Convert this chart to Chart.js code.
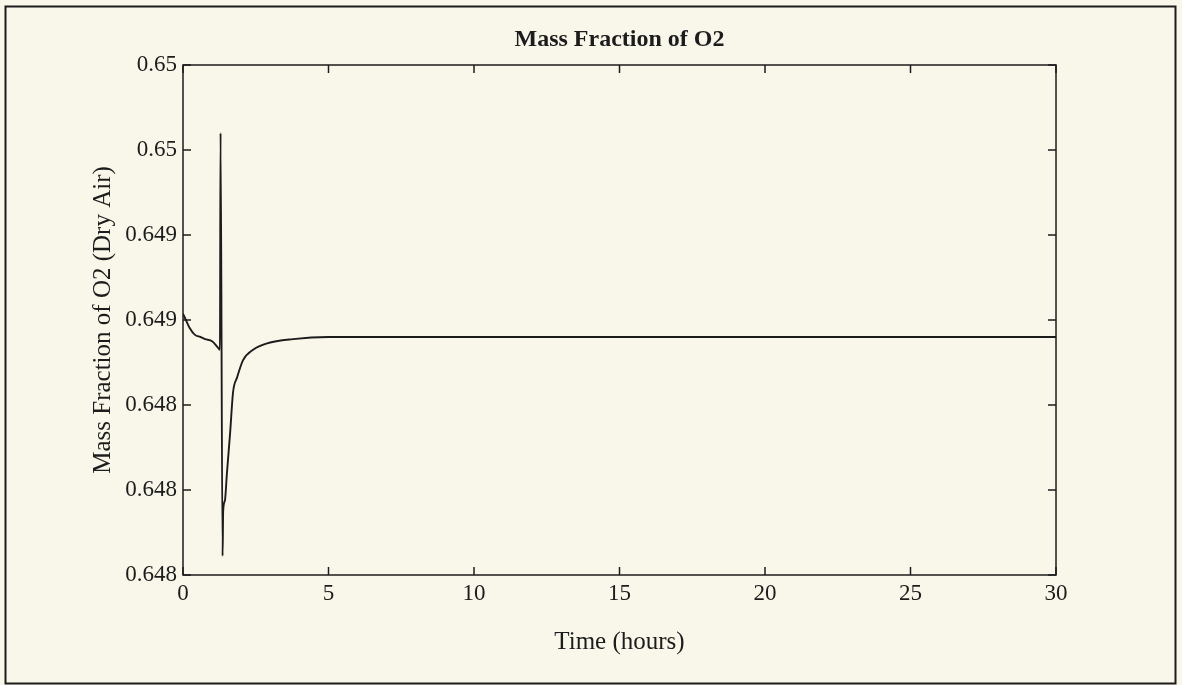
<!DOCTYPE html>
<html>
<head>
<meta charset="utf-8">
<script src="https://cdn.jsdelivr.net/npm/chart.js@4/dist/chart.umd.min.js"></script>
<style>
  html, body { margin: 0; padding: 0; background: #f7f6ea; }
  #wrap { width: 1182px; height: 685px; position: relative; }
</style>
</head>
<body>
<div id="wrap"><canvas id="o2Chart" width="1182" height="685"></canvas></div>
<script>
// Time axis (hours) and O2 mass fraction readings
var timeHours = [0, 0.1, 0.24, 0.41, 0.6, 0.76, 1.0, 1.2, 1.27, 1.29, 1.36, 1.38, 1.44, 1.51, 1.62, 1.72, 1.86, 2.06, 2.41, 2.89, 3.78, 5, 6.77, 10, 15, 20, 25, 30];
var massFractionO2 = [0.64883, 0.64880, 0.64876, 0.64873, 0.64872, 0.64871, 0.64870, 0.64867, 0.64866, 0.64968, 0.64769, 0.64790, 0.64795, 0.64808, 0.64827, 0.64846, 0.64853, 0.64861, 0.64866, 0.64869, 0.64871, 0.64872, 0.64872, 0.64872, 0.64872, 0.64872, 0.64872, 0.64872];

// Axis limits / tick spacing
var xLimits = [0, 30];
var xStep = 5;
var yLimits = [0.6476, 0.65];
var yStep = 0.0004;

var ink = '#1c1c1c';
var serif = "'Liberation Serif', 'DejaVu Serif', serif";

var points = timeHours.map(function (t, i) {
  return { x: t, y: massFractionO2[i] };
});

// Paper background, outer frame, box around the axes and inward ticks on all four sides
var paperPlugin = {
  id: 'paper',
  beforeDraw: function (chart) {
    var ctx = chart.ctx;
    ctx.save();
    ctx.fillStyle = '#f8f7ea';
    ctx.fillRect(0, 0, chart.width, chart.height);
    ctx.restore();
  },
  afterDraw: function (chart) {
    var ctx = chart.ctx;
    var a = chart.chartArea;
    var xs = chart.scales.x;
    var ys = chart.scales.y;
    var len = 8;
    ctx.save();
    ctx.strokeStyle = ink;
    ctx.lineWidth = 2;
    ctx.strokeRect(5.5, 6.5, 1170, 677);
    ctx.lineWidth = 1.5;
    ctx.strokeRect(a.left, a.top, a.right - a.left, a.bottom - a.top);
    ctx.beginPath();
    xs.ticks.forEach(function (t, i) {
      var px = xs.getPixelForTick(i);
      ctx.moveTo(px, a.bottom); ctx.lineTo(px, a.bottom - len);
      ctx.moveTo(px, a.top); ctx.lineTo(px, a.top + len);
    });
    ys.ticks.forEach(function (t, i) {
      var py = ys.getPixelForTick(i);
      ctx.moveTo(a.left, py); ctx.lineTo(a.left + len, py);
      ctx.moveTo(a.right, py); ctx.lineTo(a.right - len, py);
    });
    ctx.stroke();
    ctx.restore();
  }
};

var ctx = document.getElementById('o2Chart').getContext('2d');
var o2Chart = new Chart(ctx, {
  type: 'line',
  data: {
    datasets: [{
      data: points,
      borderColor: ink,
      borderWidth: 1.9,
      pointRadius: 0,
      fill: false,
      cubicInterpolationMode: 'monotone'
    }]
  },
  plugins: [paperPlugin],
  options: {
    responsive: false,
    animation: false,
    layout: { padding: { left: 0, right: 126, top: 0, bottom: 0 } },
    plugins: {
      legend: { display: false },
      tooltip: { enabled: false },
      title: {
        display: true,
        fullSize: false, // centre over the plot box only
        text: 'Mass Fraction of O2',
        color: ink,
        font: { family: serif, size: 24, weight: 'bold' },
        padding: { top: 25.6, bottom: 10.6 }
      }
    },
    scales: {
      x: {
        type: 'linear',
        min: xLimits[0],
        max: xLimits[1],
        afterFit: function (scale) { scale.height = 110; },
        ticks: {
          stepSize: xStep,
          color: ink,
          padding: 5,
          maxRotation: 0,
          font: { family: serif, size: 23 }
        },
        grid: { display: false, drawTicks: false },
        border: { display: false },
        title: {
          display: true,
          text: 'Time (hours)',
          color: ink,
          font: { family: serif, size: 25 },
          padding: { top: 28, bottom: 28 }
        }
      },
      y: {
        type: 'linear',
        min: yLimits[0],
        max: yLimits[1],
        afterFit: function (scale) { scale.width = 183; },
        ticks: {
          stepSize: yStep,
          color: ink,
          padding: 6,
          font: { family: serif, size: 23 },
          callback: function (v) {
            return parseFloat(Number(v).toFixed(3)).toString();
          }
        },
        grid: { display: false, drawTicks: false },
        border: { display: false },
        title: {
          display: true,
          text: 'Mass Fraction of O2 (Dry Air)',
          color: ink,
          font: { family: serif, size: 25 },
          padding: { top: 88, bottom: 0 }
        }
      }
    }
  }
});
</script>
</body>
</html>
